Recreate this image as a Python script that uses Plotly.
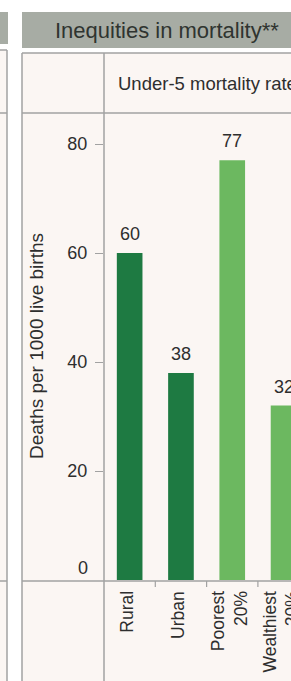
import plotly.graph_objects as go

# ---- data ----
categories = ["Rural", "Urban", "Poorest<br>20%", "Wealthiest<br>20%"]
values = [60, 38, 77, 32]
bar_colors = ["#1E7A42", "#1E7A42", "#6CB860", "#6CB860"]
y_ticks = [20, 40, 60, 80]
title_text = "Inequities in mortality**"
subtitle_text = "Under-5 mortality rate"
y_title = "Deaths per 1000 live births"

# ---- geometry ----
FW, FH = 291, 681
L, R, T, B = 104, 0, 113, 101
PW = FW - L - R
PH = FH - T - B
PX_PER_CAT = 51.3
PX_PER_UNIT = 5.45

def X(px):
    return (px - L) / PW

def Y(py):
    return (FH - B - py) / PH

FONT = "Liberation Sans, Arial, sans-serif"
TXT = "#2E2E2E"
LINE = "#A2A2A2"
PANEL = "#FBF6F3"
BANNER = "#A7ACA4"

fig = go.Figure(
    go.Bar(
        x=list(range(len(categories))),
        y=values,
        marker=dict(color=bar_colors, line=dict(width=0)),
        width=0.5,
        hoverinfo="skip",
    )
)

shapes = []
shapes.append(dict(type="rect", xref="paper", yref="paper", x0=X(-5), x1=X(7), y0=Y(50), y1=Y(FH + 5),
                   fillcolor=PANEL, line=dict(width=0), layer="below"))
shapes.append(dict(type="rect", xref="paper", yref="paper", x0=X(22), x1=X(FW + 5), y0=Y(53), y1=Y(FH + 5),
                   fillcolor=PANEL, line=dict(width=0), layer="below"))
shapes.append(dict(type="rect", xref="paper", yref="paper", x0=X(-5), x1=X(8), y0=Y(44), y1=Y(12),
                   fillcolor=BANNER, line=dict(width=0), layer="below"))
shapes.append(dict(type="rect", xref="paper", yref="paper", x0=X(22), x1=X(FW + 5), y0=Y(48), y1=Y(12),
                   fillcolor=BANNER, line=dict(width=0), layer="below"))

def vline(px, py0, py1):
    shapes.append(dict(type="line", xref="paper", yref="paper", x0=X(px), x1=X(px), y0=Y(py0), y1=Y(py1),
                       line=dict(color=LINE, width=1.5), layer="above"))

def hline(py, px0, px1):
    shapes.append(dict(type="line", xref="paper", yref="paper", x0=X(px0), x1=X(px1), y0=Y(py), y1=Y(py),
                       line=dict(color=LINE, width=1.5), layer="above"))

vline(7, 50, FH + 5)
hline(50, -5, 7)
hline(113, -5, 7)
hline(581, -5, 7)
hline(53, 22, FW + 5)
vline(22, 53, FH + 5)
vline(104, 53, FH + 5)
hline(113, 22, FW + 5)
hline(581, 22, FW + 5)

# category boundary ticks (between categories)
for i in range(len(categories)):
    shapes.append(dict(type="line", xref="x", yref="paper", x0=i + 0.5, x1=i + 0.5, y0=Y(581), y1=Y(587),
                       line=dict(color=LINE, width=1.2), layer="above"))

annotations = [
    dict(text=title_text, xref="paper", yref="paper", x=X(167), y=Y(30), xanchor="center", yanchor="middle",
         showarrow=False, font=dict(family=FONT, size=22, color="#2F3430")),
    dict(text=subtitle_text, xref="paper", yref="paper", x=X(116), y=Y(84), xanchor="left", yanchor="middle",
         showarrow=False, font=dict(family=FONT, size=18.5, color=TXT)),
    dict(text=y_title, xref="paper", yref="paper", x=X(36), y=Y(346), xanchor="center", yanchor="middle",
         textangle=-90, showarrow=False, font=dict(family=FONT, size=19, color=TXT)),
    dict(text="0", xref="paper", yref="y", x=0, y=0, xanchor="right", yanchor="middle",
         xshift=-14, yshift=12, showarrow=False, font=dict(family=FONT, size=18, color=TXT)),
]
for i, v in enumerate(values):
    annotations.append(dict(text=str(v), x=i, y=v, xref="x", yref="y", xanchor="center", yanchor="bottom",
                            yshift=7, showarrow=False, font=dict(family=FONT, size=18, color=TXT)))
# category labels, rotated, end aligned near the axis
for i, c in enumerate(categories):
    annotations.append(dict(text=c, x=i, y=Y(589), xref="x", yref="paper", xanchor="center", yanchor="top",
                            xshift=-3, textangle=-90, align="right", showarrow=False,
                            font=dict(family=FONT, size=17.5, color=TXT)))

fig.update_layout(
    width=FW,
    height=FH,
    margin=dict(l=L, r=R, t=T, b=B, pad=0),
    paper_bgcolor="#FFFFFF",
    plot_bgcolor=PANEL,
    showlegend=False,
    shapes=shapes,
    annotations=annotations,
    xaxis=dict(
        type="linear",
        autorange=False,
        range=[-0.5, -0.5 + PW / PX_PER_CAT],
        showticklabels=False,
        ticks="",
        showline=False,
        showgrid=False,
        zeroline=False,
        fixedrange=True,
    ),
    yaxis=dict(
        autorange=False,
        range=[0, PH / PX_PER_UNIT],
        tickvals=y_ticks,
        ticks="outside",
        ticklen=8,
        tickwidth=1.2,
        tickcolor=LINE,
        ticklabelstandoff=4,
        tickfont=dict(family=FONT, size=18, color=TXT),
        showline=False,
        showgrid=False,
        zeroline=False,
        fixedrange=True,
    ),
)

fig.write_html(
    "out.html",
    config={"displayModeBar": False},
    post_script="document.body.style.margin='0';document.body.style.overflow='hidden';",
)
